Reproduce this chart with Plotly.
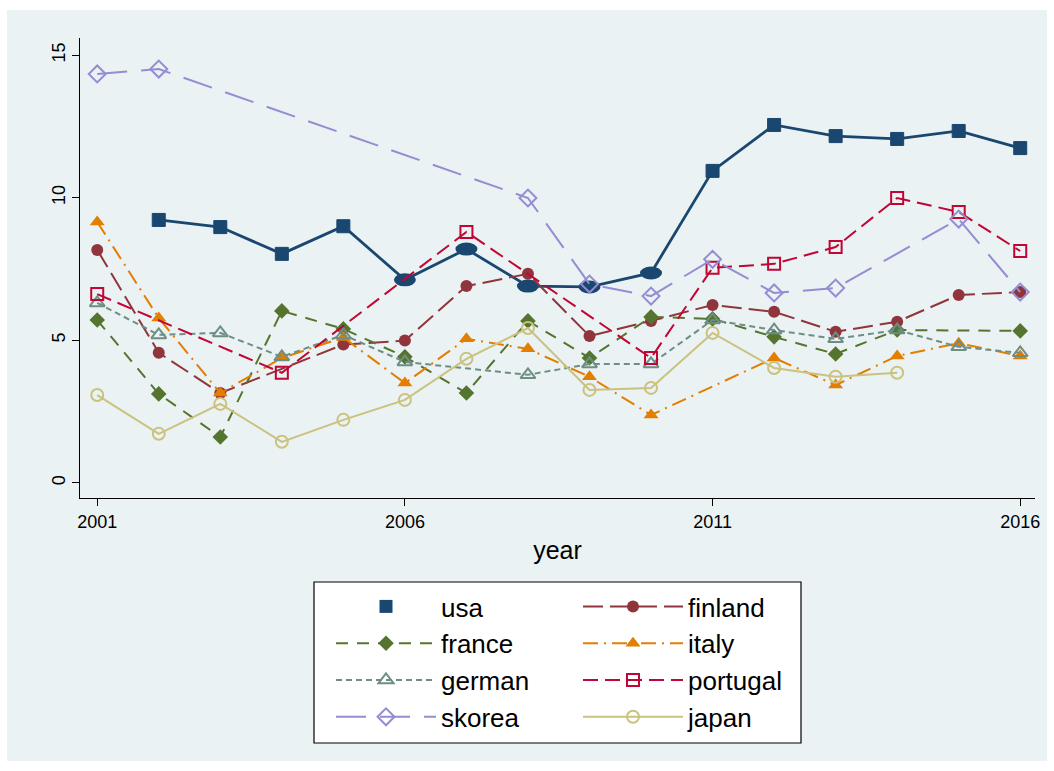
import plotly.graph_objects as go

# ---------------- data ----------------
usa_years = list(range(2002, 2017))
usa = [9.22, 8.97, 8.03, 9.00, 7.12, 8.20, 6.90, 6.87, 7.36, 10.94, 12.55, 12.16, 12.06, 12.34, 11.74]

finland_years = [2001, 2002, 2003, 2005, 2006, 2007, 2008, 2009, 2010, 2011, 2012, 2013, 2014, 2015, 2016]
finland = [8.17, 4.56, 3.15, 4.85, 4.99, 6.90, 7.33, 5.15, 5.68, 6.24, 6.00, 5.30, 5.65, 6.59, 6.69]

france_years = [2001, 2002, 2003, 2004, 2005, 2006, 2007, 2008, 2009, 2010, 2011, 2012, 2013, 2014, 2016]
france = [5.71, 3.12, 1.61, 6.03, 5.40, 4.42, 3.15, 5.68, 4.38, 5.82, 5.75, 5.12, 4.52, 5.36, 5.33]

italy_years = [2001, 2002, 2003, 2004, 2005, 2006, 2007, 2008, 2009, 2010, 2012, 2013, 2014, 2015, 2016]
italy = [9.15, 5.78, 3.15, 4.38, 5.10, 3.50, 5.05, 4.70, 3.72, 2.38, 4.38, 3.43, 4.45, 4.90, 4.45]

german_years = [2001, 2002, 2003, 2004, 2005, 2006, 2008, 2009, 2010, 2011, 2012, 2013, 2014, 2015, 2016]
german = [6.31, 5.19, 5.26, 4.42, 5.19, 4.24, 3.79, 4.17, 4.17, 5.71, 5.36, 5.05, 5.36, 4.77, 4.56]

portugal_years = [2001, 2004, 2007, 2010, 2011, 2012, 2013, 2014, 2015, 2016]
portugal = [6.62, 3.86, 8.80, 4.38, 7.54, 7.68, 8.27, 9.99, 9.50, 8.13]

skorea_years = [2001, 2002, 2008, 2009, 2010, 2011, 2012, 2013, 2015, 2016]
skorea = [14.34, 14.51, 9.99, 6.97, 6.55, 7.84, 6.66, 6.83, 9.25, 6.69]

japan_years = list(range(2001, 2015))
japan = [3.08, 1.72, 2.77, 1.44, 2.21, 2.91, 4.35, 5.43, 3.26, 3.33, 5.26, 4.03, 3.72, 3.86]

x_ticks = [2001, 2006, 2011, 2016]
y_ticks = [0, 5, 10, 15]

# years where the usa marker is drawn as a wide ellipse (style only)
usa_ellipse_years = {2006, 2007, 2008, 2009, 2010}

# ---------------- style ----------------
BG = "#EAF2F3"
FONT = "Liberation Sans"
C = dict(usa="#1A476F", finland="#90353B", france="#55752F", italy="#E37E00",
         german="#6E8E84", portugal="#C10534", skorea="#938DD2", japan="#CAC27E")

fig = go.Figure()

# legend entry for usa (marker only)
fig.add_trace(go.Scatter(x=[None], y=[None], mode="markers", name="usa",
                         marker=dict(symbol="square", size=13, color=C["usa"],
                                     line=dict(width=0, color=C["usa"])),
                         legend="legend", legendgroup="usa"))

usa_sizes = [0 if yr in usa_ellipse_years else 13 for yr in usa_years]
fig.add_trace(go.Scatter(x=usa_years, y=usa, mode="lines+markers", name="usa", showlegend=False,
                         line=dict(color=C["usa"], width=2.8),
                         marker=dict(symbol="square", size=usa_sizes, color=C["usa"], opacity=1,
                                     line=dict(width=1, color=C["usa"]))))

series = [
    ("finland", finland_years, finland, "20px,7px", "circle", 12, "legend2"),
    ("france", france_years, france, "12px,9px", "diamond", 12, "legend"),
    ("italy", italy_years, italy, "15px,6px,2px,6px", "triangle-up", 13, "legend2"),
    ("german", german_years, german, "6px,4px", "triangle-up-open", 13, "legend"),
    ("portugal", portugal_years, portugal, "15px,7px", "square-open", 12, "legend2"),
    ("skorea", skorea_years, skorea, "30px,14px", "diamond-open", 13, "legend"),
    ("japan", japan_years, japan, "solid", "circle-open", 12, "legend2"),
]
for name, xs, ys, dash, sym, sz, lg in series:
    fig.add_trace(go.Scatter(
        x=xs, y=ys, mode="lines+markers", name=name, legend=lg, legendgroup=name,
        line=dict(color=C[name], width=2, dash=dash),
        marker=dict(symbol=sym, size=sz, color=C[name], opacity=1,
                    line=dict(color=C[name], width=2 if sym.endswith("open") else 0)),
    ))

# plot-area geometry (pixels)
W, H = 1054, 771
L, R, T, B = 80, 1035, 38, 498
pw, ph = R - L, B - T


def px(xp):
    return (xp - L) / pw


def py(yp):
    return (B - yp) / ph


shapes = [
    dict(type="rect", xref="paper", yref="paper", layer="below",
         x0=px(7), x1=px(1047), y0=py(761), y1=py(10),
         fillcolor=BG, line=dict(width=0)),
    dict(type="rect", xref="paper", yref="paper", layer="above",
         x0=px(314), x1=px(801), y0=py(743), y1=py(582),
         fillcolor="white", line=dict(color="black", width=1.2)),
]
for yr, v in zip(usa_years, usa):
    if yr in usa_ellipse_years:
        shapes.append(dict(type="circle", xref="x", yref="y", layer="below",
                           xsizemode="pixel", ysizemode="pixel", xanchor=yr, yanchor=v,
                           x0=-11, x1=11, y0=-6.5, y1=6.5,
                           fillcolor=C["usa"], line=dict(width=0)))

legend_common = dict(
    orientation="v", bgcolor="rgba(0,0,0,0)", borderwidth=0,
    font=dict(family=FONT, size=26, color="black"),
    itemwidth=100, tracegroupgap=0, xanchor="left", yanchor="top",
    itemsizing="trace",
)

fig.update_layout(
    width=W, height=H,
    margin=dict(l=L, r=W - R, t=T, b=H - B),
    paper_bgcolor="white", plot_bgcolor=BG,
    font=dict(family=FONT, color="black"),
    shapes=shapes,
    showlegend=True,
    legend=dict(x=px(331), y=py(583), **legend_common),
    legend2=dict(x=px(578), y=py(583), **legend_common),
    xaxis=dict(range=[2000.72, 2016.24], tickvals=x_ticks, showgrid=False, zeroline=False,
               showline=True, linecolor="black", linewidth=1.2,
               ticks="outside", ticklen=7, tickcolor="black", tickwidth=1.2,
               tickfont=dict(size=18, family=FONT),
               title=dict(text="year", font=dict(size=25, family=FONT), standoff=10)),
    yaxis=dict(range=[-0.53, 15.6], tickvals=y_ticks, showgrid=False, zeroline=False,
               showline=True, linecolor="black", linewidth=1.2,
               ticks="outside", ticklen=7, tickcolor="black", tickwidth=1.2,
               tickangle=-90, tickfont=dict(size=18, family=FONT)),
)

fig.write_html("out.html")
